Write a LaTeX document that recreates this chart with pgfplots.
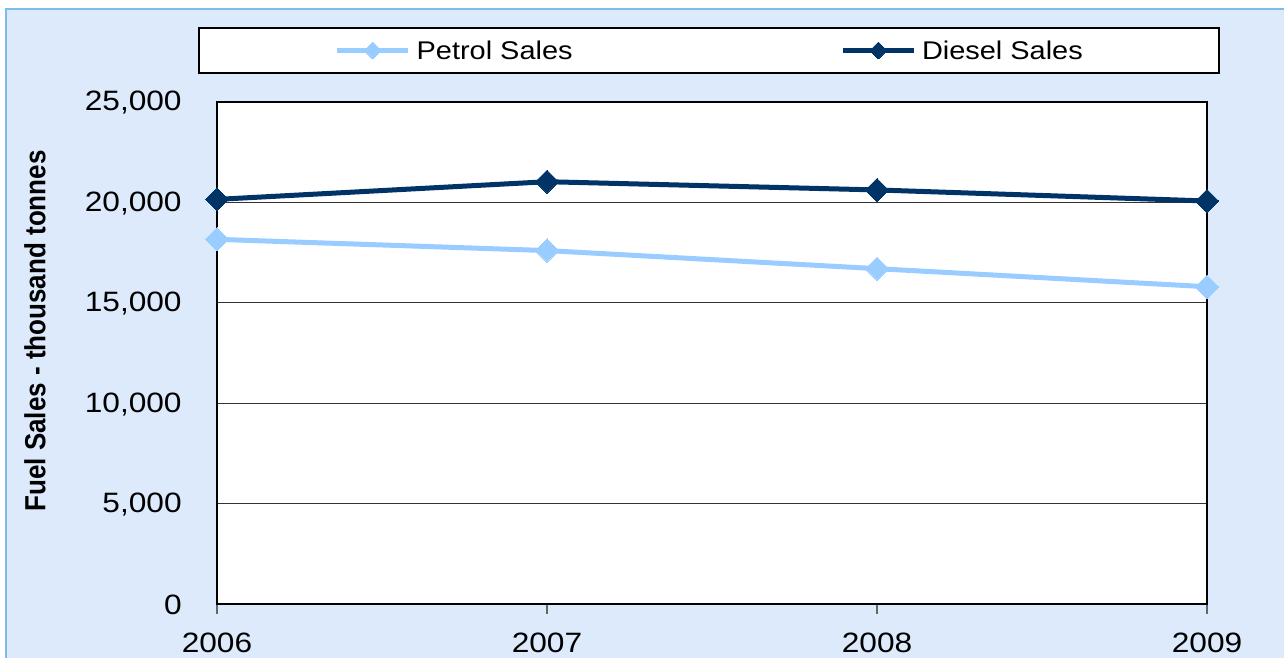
\documentclass[border=0pt]{standalone}
\usepackage{fontspec}
\setmainfont{Liberation Sans}[FakeStretch=1.13]
\newfontfamily\labelfont{Liberation Sans}
\usepackage{pgfplots}
\pgfplotsset{compat=1.18}
\definecolor{bgblue}{RGB}{220,234,252}
\definecolor{bordblue}{RGB}{120,190,235}
\definecolor{petrol}{RGB}{153,204,255}
\definecolor{diesel}{RGB}{0,51,102}
\begin{document}
\begin{tikzpicture}
\path[use as bounding box] (0,0) rectangle (642pt,329pt);
\clip (0,0) rectangle (642pt,329pt);
\fill[bgblue] (0,0) rectangle (642pt,329pt);
\fill[white] (0,324.5pt) rectangle (642pt,329pt);
\fill[white] (0,0) rectangle (3pt,329pt);
\draw[bordblue, line width=0.8pt] (3pt,-5pt) -- (3pt,324.5pt) -- (650pt,324.5pt);
\begin{axis}[
  at={(108.5pt,27pt)}, anchor=south west,
  scale only axis, width=495pt, height=251pt,
  xmin=2006, xmax=2009, ymin=0, ymax=25000,
  xtick={2006,2007,2008,2009},
  ytick={0,5000,10000,15000,20000,25000},
  xtick pos=bottom,
  scaled y ticks=false,
  /pgf/number format/assume math mode=true,
  /pgf/number format/.cd, 1000 sep={,}, /pgfplots/.cd,
  xticklabel={\pgfmathprintnumber[1000 sep={}]{\tick}},
  axis background/.style={fill=white},
  axis line style={line width=1.3pt, black},
  ymajorgrids,
  grid style={black!80, line width=0.5pt},
  tick align=outside,
  major tick length=5pt,
  xtick style={draw=black!60, line width=0.6pt},
  ytick style={draw=none},
  tick label style={font=\fontsize{14}{16}\selectfont, inner sep=0pt},
  yticklabel style={anchor=east, xshift=-12.5pt, yshift=-0.5pt},
  xticklabel style={anchor=north, yshift=-9.5pt},
  legend columns=2,
  legend style={at={(0.497,1.1026)}, anchor=center,
    draw=black, line width=1.2pt, fill=white,
    font=\fontsize{12.8}{14}\selectfont,
    inner xsep=68pt, inner ysep=6.5pt,
    nodes={inner sep=0pt, text depth=0pt},
    column sep=3pt,
    /tikz/every even column/.append style={column sep=134pt}},
  legend image code/.code={
    \draw[#1, mark=none, line width=2.2pt] (0pt,0pt) -- (35.5pt,0pt);
    \draw[#1, mark size=3pt] plot coordinates {(17.75pt,0pt)};
  },
]
\addplot[petrol, line width=2.5pt, mark=square*, mark size=4.1pt,
  mark options={rotate=45, solid, fill=petrol, draw=petrol, line width=0pt}]
  coordinates {(2006,18160) (2007,17600) (2008,16700) (2009,15800)};
\addlegendentry{Petrol Sales}
\addplot[diesel, line width=2.5pt, mark=square*, mark size=4.1pt,
  mark options={rotate=45, solid, fill=diesel, draw=diesel, line width=0pt}]
  coordinates {(2006,20150) (2007,21030) (2008,20620) (2009,20070)};
\addlegendentry{Diesel Sales}
\end{axis}
\node[rotate=90, yscale=1.12, font=\labelfont\bfseries\fontsize{13}{15}\selectfont] at (17.5pt,163.5pt) {Fuel Sales - thousand tonnes};
\end{tikzpicture}
\end{document}
